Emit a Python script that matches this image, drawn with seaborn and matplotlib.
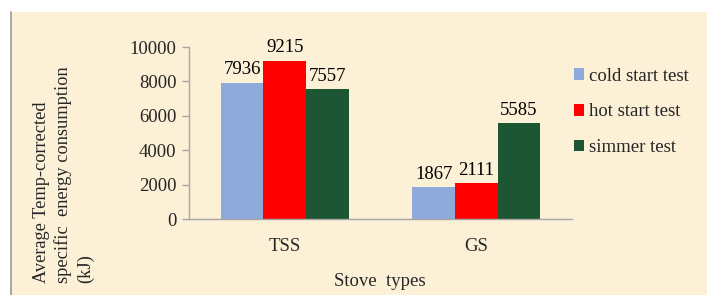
import matplotlib
matplotlib.use("Agg")
import matplotlib.pyplot as plt
import matplotlib.patches as mpatches
import seaborn as sns
import pandas as pd

stoves = ["TSS", "GS"]
tests = ["cold start test", "hot start test", "simmer test"]
cold_start = [7936, 1867]
hot_start = [9215, 2111]
simmer = [7557, 5585]
yticks = [0, 2000, 4000, 6000, 8000, 10000]

colors = ["#8eaadb", "#ff0000", "#1d5632"]
bg = "#fcf0d6"
axis_col = "#a6a6a6"

df = pd.DataFrame({
    "stove": stoves * 3,
    "test": [t for t in tests for _ in stoves],
    "value": cold_start + hot_start + simmer,
})

sns.set_style("white")
plt.rcParams["font.family"] = ["Liberation Serif", "DejaVu Serif"]

fig = plt.figure(figsize=(7.07, 2.95), dpi=100)
fig.patch.set_facecolor("white")
# parchment panel behind the chart
fig.patches.append(mpatches.Rectangle((11 / 707, 0), 1 - 11 / 707, 1 - 12 / 295,
                                      transform=fig.transFigure, facecolor=bg,
                                      edgecolor="none", zorder=-10))
fig.add_artist(plt.Line2D([11 / 707, 11 / 707], [0, 1 - 12 / 295],
                          transform=fig.transFigure, color="#9a9a9a", lw=1.2, zorder=-9))

ax = fig.add_axes([189 / 707, 1 - 219 / 295, (572 - 189) / 707, (219 - 47) / 295])
ax.set_facecolor("none")

sns.barplot(data=df, x="stove", y="value", hue="test", order=stoves, hue_order=tests,
            palette=colors, width=0.667, saturation=1, ax=ax, legend=False,
            edgecolor="none", linewidth=0)

for cont in ax.containers:
    ax.bar_label(cont, fmt="%d", padding=3, fontsize=13.5, color="black")

ax.set_ylim(0, 10000)
ax.set_xlim(-0.5, 1.5)
ax.set_yticks(yticks)
ax.set_yticklabels([str(v) for v in yticks], fontsize=13.5)
ax.set_xticks([0, 1])
ax.set_xticklabels(stoves, fontsize=13.5)
ax.tick_params(axis="x", length=0, pad=14)
ax.set_xticks([-0.5, 0.5, 1.5], minor=True)
ax.tick_params(axis="x", which="minor", length=5, color=axis_col, width=1)
ax.tick_params(axis="y", length=5, color=axis_col, width=1, pad=4, direction="out", left=True)

for side in ["top", "right"]:
    ax.spines[side].set_visible(False)
for side in ["left", "bottom"]:
    ax.spines[side].set_color(axis_col)
    ax.spines[side].set_linewidth(1)

ax.set_xlabel("")
ax.set_ylabel("")
fig.text(380 / 707, 1 - 281 / 295, "Stove  types", ha="center", va="center", fontsize=13.5)
fig.text(33 / 707, 1 - 283 / 295,
         "Average Temp-corrected\nspecific  energy consumption\n(kJ)",
         rotation=90, ha="left", va="bottom", fontsize=13.2, multialignment="left",
         linespacing=1.32)

handles = [mpatches.Patch(facecolor=c, edgecolor="none") for c in colors]
fig.legend(handles, tests, loc="center left", bbox_to_anchor=(566 / 707, 1 - 112 / 295),
           frameon=False, fontsize=13.5, handlelength=0.55, handleheight=0.55,
           handletextpad=0.3, labelspacing=1.0, borderaxespad=0)

fig.savefig("out.png", dpi=100)
